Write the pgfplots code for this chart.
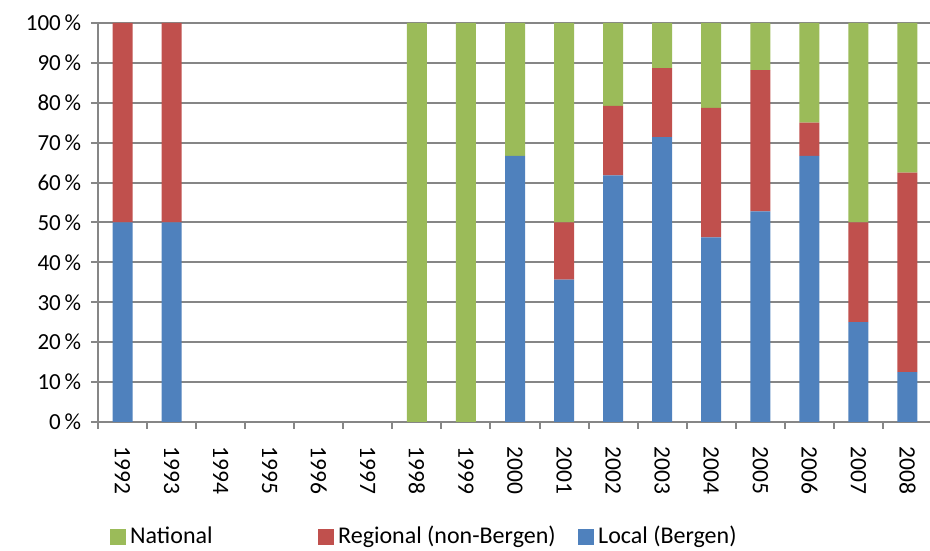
\documentclass[border=0pt]{standalone}
\usepackage{fontspec}
\setmainfont{Carlito}
\usepackage{pgfplots}
\pgfplotsset{compat=1.18}
\definecolor{cblue}{HTML}{4F81BD}
\definecolor{cred}{HTML}{C0504D}
\definecolor{cgreen}{HTML}{9BBB59}
\definecolor{cgrid}{HTML}{868686}
\begin{document}
\fontsize{23}{27}\selectfont
\begin{tikzpicture}
\begin{axis}[
  scale only axis,
  width=834pt, height=399pt,
  ybar stacked,
  bar width=20pt,
  xmin=-0.5, xmax=16.5,
  ymin=0, ymax=100,
  xtick={0,...,16},
  xticklabels={1992,1993,1994,1995,1996,1997,1998,1999,2000,2001,2002,2003,2004,2005,2006,2007,2008},
  x tick label style={rotate=-90, anchor=west, font=\fontsize{23.5}{27}\selectfont},
  major x tick style={draw=none},
  minor xtick={-0.5,0.5,...,16.5},
  minor x tick style={draw=cgrid, line width=2pt},
  minor tick length=7pt,
  ytick={0,10,...,100},
  yticklabel={\pgfmathprintnumber{\tick}\,\%},
  y tick label style={font=\fontsize{23}{27}\selectfont},
  /pgf/number format/assume math mode=true,
  ymajorgrids,
  grid style={draw=cgrid, line width=2pt},
  major y tick style={draw=cgrid, line width=2pt},
  major tick length=7pt,
  tick align=outside,
  axis line style={draw=cgrid, line width=2pt},
  axis x line*=bottom,
  axis y line*=left,
  xticklabel shift=10pt,
  yticklabel shift=2pt,
  reverse legend,
  legend columns=3,
  legend style={draw=none, at={(0.0144,-0.288)}, anchor=west, inner sep=0pt,
    font=\fontsize{24}{27}\selectfont, column sep=0pt,
    /tikz/every odd column/.style={column sep=2pt}},
  legend image code/.code={\fill[#1, draw=none] (0pt,-8pt) rectangle (16pt,8pt);},
]
\addplot[fill=cblue, draw=none] coordinates {(0,50) (1,50) (2,0) (3,0) (4,0) (5,0) (6,0) (7,0) (8,66.7) (9,35.7) (10,61.8) (11,71.4) (12,46.3) (13,52.8) (14,66.7) (15,25) (16,12.5)};
\addlegendentry{Local (Bergen)}
\addplot[fill=cred, draw=none] coordinates {(0,50) (1,50) (2,0) (3,0) (4,0) (5,0) (6,0) (7,0) (8,0) (9,14.3) (10,17.4) (11,17.3) (12,32.4) (13,35.4) (14,8.3) (15,25) (16,50)};
\addlegendentry{\makebox[238pt][l]{Regional (non-Bergen)}}
\addplot[fill=cgreen, draw=none] coordinates {(0,0) (1,0) (2,0) (3,0) (4,0) (5,0) (6,100) (7,100) (8,33.3) (9,50) (10,20.8) (11,11.3) (12,21.3) (13,11.8) (14,25) (15,50) (16,37.5)};
\addlegendentry{\makebox[186pt][l]{National}}
\end{axis}
\pgfresetboundingbox
\path ([xshift=-98pt,yshift=-129pt]current axis.south west) rectangle ([xshift=-98pt+930pt,yshift=-129pt+551pt]current axis.south west);
\end{tikzpicture}
\end{document}
